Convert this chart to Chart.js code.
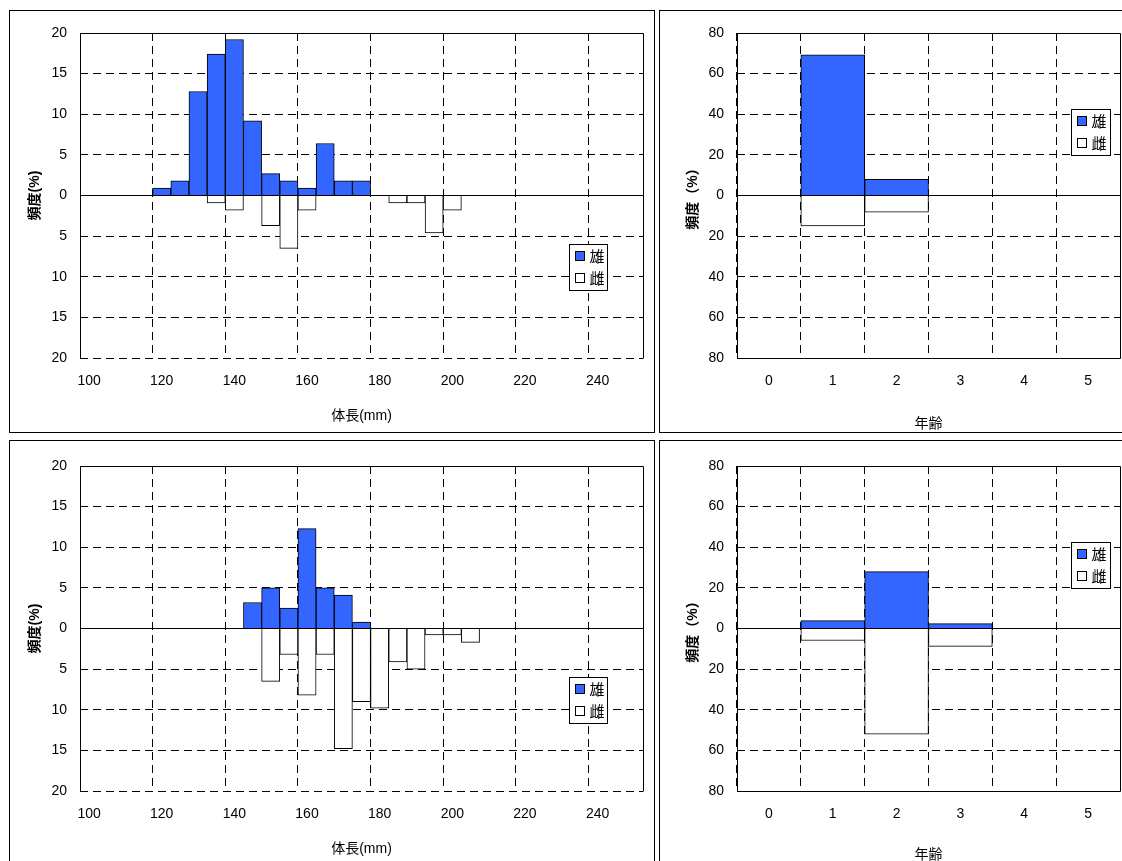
<!DOCTYPE html>
<html lang="ja">
<head>
<meta charset="utf-8">
<script src="https://cdn.jsdelivr.net/npm/chart.js@4.4.1/dist/chart.umd.min.js"></script>
<style>
    html, body { margin: 0; padding: 0; background: #fff; width: 1122px; height: 861px; overflow: hidden; }
    .panel { position: absolute; box-sizing: border-box; border: 1px solid #000; background: #fff; overflow: hidden; }
    .panel canvas { position: absolute; left: 0; top: 0; }
</style>
</head>
<body>
<div class="panel" style="left:9px;top:10px;width:646px;height:423px"><canvas id="len-1" width="643" height="420"></canvas></div>
<div class="panel" style="left:659px;top:10px;width:480px;height:423px"><canvas id="age-1" width="470" height="420"></canvas></div>
<div class="panel" style="left:9px;top:440px;width:646px;height:440px"><canvas id="len-2" width="643" height="420"></canvas></div>
<div class="panel" style="left:659px;top:440px;width:480px;height:440px"><canvas id="age-2" width="470" height="420"></canvas></div>

<script>
// ===== データ =====
// 体長の階級 (5mm刻み)
const lengthLabels = ['100', '105', '110', '115', '120', '125', '130', '135', '140', '145',
                      '150', '155', '160', '165', '170', '175', '180', '185', '190', '195',
                      '200', '205', '210', '215', '220', '225', '230', '235', '240', '245', '250'];

// 上段 体長組成 (%)
const maleLen1 = [null, null, null, null, 0.9, 1.8, 12.8, 17.4, 19.2, 9.2,
                  2.7, 1.8, 0.9, 6.4, 1.8, 1.8, null, null, null, null,
                  null, null, null, null, null, null, null, null, null, null, null];
const femaleLen1 = [null, null, null, null, null, null, null, 0.9, 1.8, null,
                    3.7, 6.5, 1.8, null, null, null, null, 0.9, 0.9, 4.6,
                    1.8, null, null, null, null, null, null, null, null, null, null];

// 下段 体長組成 (%)
const maleLen2 = [null, null, null, null, null, null, null, null, null, 3.2,
                  5.0, 2.5, 12.3, 5.0, 4.1, 0.8, null, null, null, null,
                  null, null, null, null, null, null, null, null, null, null, null];
const femaleLen2 = [null, null, null, null, null, null, null, null, null, null,
                    6.5, 3.2, 8.2, 3.2, 14.8, 9.0, 9.8, 4.1, 5.0, 0.8,
                    0.8, 1.7, null, null, null, null, null, null, null, null, null];

// 年齢組成 (%)
const ageLabels = ['0', '1', '2', '3', '4', '5'];
const maleAge1 = [null, 69.3, 8.0, null, null, null];
const femaleAge1 = [null, 15.0, 8.2, null, null, null];
const maleAge2 = [null, 3.9, 28.0, 2.4, null, null];
const femaleAge2 = [null, 5.9, 52.0, 8.8, null, null];

const MALE_COLOR = '#3366ff';
const FONT = '"Liberation Sans", "Noto Sans CJK JP", sans-serif';
const DASH = [8, 5];

// Chart.js と同じ位置合わせ
const crisp = p => Math.round(p - 0.5) + 0.5;

// ===== 枠・ゼロ線・凡例 =====
const framePlugin = {
    id: 'frame',
    afterDatasetsDraw(chart, args, opts) {
        const { ctx, chartArea: a } = chart;
        const zero = crisp(chart.scales.y.getPixelForValue(0));
        const l = crisp(a.left), r = crisp(a.right);
        const t = crisp(a.top), b = crisp(a.bottom);

        ctx.save();
        ctx.setLineDash([]);
        ctx.strokeStyle = '#000';
        ctx.lineWidth = 1;
        ctx.beginPath();
        ctx.moveTo(l, zero); ctx.lineTo(r, zero);
        ctx.moveTo(l, b); ctx.lineTo(l, t); ctx.lineTo(r, t); ctx.lineTo(r, b);
        if (opts.solidBottom) ctx.lineTo(l, b);
        ctx.stroke();
        ctx.restore();
    },
    afterDraw(chart, args, opts) {
        const { ctx, chartArea: a } = chart;
        const lg = opts.legend;
        const x = Math.round(a.right - lg.right - lg.w) + 0.5;
        const y = Math.round(a.top + lg.top) + 0.5;

        ctx.save();
        ctx.setLineDash([]);
        ctx.fillStyle = '#fff';
        ctx.fillRect(x, y, lg.w, lg.h);
        ctx.strokeStyle = '#000';
        ctx.lineWidth = 1;
        ctx.strokeRect(x, y, lg.w, lg.h);

        const items = [['雄', MALE_COLOR], ['雌', '#fff']];
        ctx.font = '15px "Noto Sans CJK JP"';
        ctx.textBaseline = 'middle';
        items.forEach(([label, color], i) => {
            const cy = y + 11.5 + i * 22;
            ctx.fillStyle = color;
            ctx.fillRect(x + 6, cy - 4.5, 9, 9);
            ctx.strokeRect(x + 6, cy - 4.5, 9, 9);
            ctx.fillStyle = '#000';
            ctx.fillText(label, x + 20, cy);
        });
        ctx.restore();
    }
};

// ===== グラフ作成 =====
const SexCharts = {
    build(id, labels, male, female, cfg) {
        const ctx = document.getElementById(id);

        return new Chart(ctx, {
            type: 'bar',
            data: {
                labels: labels,
                datasets: [{
                    label: '雄',
                    data: male,
                    backgroundColor: MALE_COLOR,
                    borderColor: '#000',
                    borderWidth: 1
                }, {
                    label: '雌',
                    // 雌は下向きに描く
                    data: female.map(v => v === null ? null : -v),
                    backgroundColor: '#fff',
                    borderColor: '#000',
                    borderWidth: 1
                }]
            },
            options: {
                responsive: false,
                animation: false,
                devicePixelRatio: 1,
                layout: { padding: { top: cfg.padTop, right: 10, left: 0, bottom: 0 } },
                datasets: { bar: { categoryPercentage: 1, barPercentage: 1 } },
                plugins: {
                    legend: { display: false },
                    tooltip: { enabled: false },
                    frame: { legend: cfg.legend, solidBottom: cfg.solidBottom }
                },
                scales: {
                    x: {
                        stacked: true,
                        offset: true,
                        grid: {
                            offset: true,
                            drawTicks: false,
                            color: c => c.index % cfg.every === 0 ? '#000' : 'rgba(0,0,0,0)'
                        },
                        border: { display: false, dash: DASH },
                        ticks: {
                            autoSkip: false,
                            maxRotation: 0,
                            padding: 15,
                            color: '#000',
                            font: { family: FONT, size: 14 },
                            callback(value, index) {
                                return index % cfg.every === 0 ? this.getLabelForValue(value) : '';
                            }
                        },
                        title: {
                            display: true,
                            text: cfg.xTitle,
                            color: '#000',
                            font: { family: FONT, size: 14 },
                            padding: { top: 0, bottom: cfg.xTitlePad }
                        },
                        afterFit(scale) { scale.height = cfg.xHeight; }
                    },
                    y: {
                        stacked: true,
                        min: -cfg.max,
                        max: cfg.max,
                        grid: {
                            drawTicks: false,
                            // 0 の線は実線で別に描く
                            color: c => c.tick && c.tick.value === 0 ? 'rgba(0,0,0,0)' : '#000'
                        },
                        border: { display: false, dash: DASH },
                        ticks: {
                            stepSize: cfg.step,
                            padding: 13,
                            color: '#000',
                            font: { family: FONT, size: 14 },
                            callback: v => Math.abs(v)
                        },
                        title: {
                            display: true,
                            text: cfg.yTitle,
                            color: '#000',
                            font: { family: FONT, size: 14, weight: 'bold' },
                            padding: { top: cfg.yTitlePad, bottom: 0 }
                        },
                        afterFit(scale) { scale.width = cfg.yWidth; }
                    }
                }
            },
            plugins: [framePlugin]
        });
    }
};

const lenCfg = {
    every: 4, max: 20, step: 5, yWidth: 70, yTitlePad: 17,
    xTitle: '体長(mm)', yTitle: '頻度(%)', solidBottom: false,
    legend: { right: 36, top: 211, w: 38, h: 46 }
};
const ageCfg = {
    every: 1, max: 80, step: 20, yWidth: 77, yTitlePad: 25,
    xTitle: '年齢', yTitle: '頻度（%）', solidBottom: true,
    legend: { right: 10, top: 76, w: 39, h: 46 }
};

SexCharts.build('len-1', lengthLabels, maleLen1, femaleLen1,
    Object.assign({}, lenCfg, { padTop: 22, xHeight: 73, xTitlePad: 6.6 }));
SexCharts.build('age-1', ageLabels, maleAge1, femaleAge1,
    Object.assign({}, ageCfg, { padTop: 22, xHeight: 73, xTitlePad: -1.4 }));
SexCharts.build('len-2', lengthLabels, maleLen2, femaleLen2,
    Object.assign({}, lenCfg, { padTop: 25, xHeight: 70, xTitlePad: 3.6 }));
SexCharts.build('age-2', ageLabels, maleAge2, femaleAge2,
    Object.assign({}, ageCfg, { padTop: 25, xHeight: 70, xTitlePad: -2.4 }));
</script>
</body>
</html>
